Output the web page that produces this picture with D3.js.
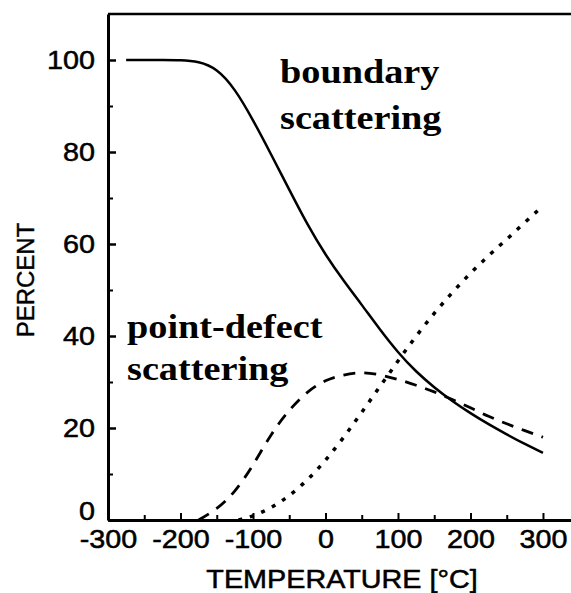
<!DOCTYPE html>
<html>
<head>
<meta charset="utf-8">
<script src="https://cdn.jsdelivr.net/npm/d3@7"></script>
<style>
  body { margin: 0; background: #fff; }
  svg { display: block; }
</style>
</head>
<body>
<div id="chart"></div>
<script>
// data
var xTicks = [-300, -200, -100, 0, 100, 200, 300];
var yTicks = [0, 20, 40, 60, 80, 100];

// solid line - boundary scattering
var solidTemp = [-275, -250, -225, -200, -175, -150, -125, -100, -75, -50, -25, 0, 25, 50, 75, 100, 125, 150, 175, 200, 225, 250, 275, 300];
var solidPct  = [100, 100, 100, 100, 99.7, 98.2, 93.8, 87, 79.5, 71.8, 64.2, 57.6, 52, 46.8, 41.4, 36.4, 32.2, 28.8, 25.8, 23.2, 20.8, 18.6, 16.5, 14.6];

// dashed line
var dashTemp = [-175, -150, -125, -100, -75, -50, -25, 0, 25, 50, 75, 100, 125, 150, 175, 200, 225, 250, 275, 300];
var dashPct  = [0, 2.3, 6, 11.8, 18.8, 24, 28, 30.5, 31.6, 32.2, 31.6, 30.6, 29.3, 27.9, 26.2, 24.4, 22.5, 20.9, 19.4, 18];

// dotted line
var dotTemp = [-120, -100, -75, -50, -25, 0, 25, 50, 75, 100, 125, 150, 175, 200, 225, 250, 275, 300];
var dotPct  = [0, 0.8, 2.6, 5.2, 8.6, 12.9, 17.9, 23.4, 29, 34.6, 40, 45, 49.5, 53.7, 57.5, 61, 64.7, 68.3];

// labels
var labels = [
  {lines: ["boundary", "scattering"], x: 280, y: 83, gap: 46},
  {lines: ["point-defect", "scattering"], x: 127, y: 338, gap: 42}
];

//
// chart
//
var w = 571;
var h = 593;
var stretch = 1.15; // the scan is a bit wider than tall
var sans = "Liberation Sans, Arial, sans-serif";

var x = d3.scaleLinear().domain([-300, 345]).range([108, 575.6]);
var y = d3.scaleLinear().domain([0, 110]).range([520, 14]);

var svg = d3.select("#chart")
    .append("svg")
    .attr("width", w)
    .attr("height", h);

// top frame
svg.append("line")
    .attr("x1", x(-300)).attr("x2", x(345))
    .attr("y1", y(110)).attr("y2", y(110))
    .attr("stroke", "#000")
    .attr("stroke-width", 2.5);

// minor ticks
svg.append("g")
    .attr("transform", "translate(0," + y(0) + ")")
    .call(d3.axisBottom(x).tickValues(d3.range(-250, 345, 100)).tickSize(-5).tickSizeOuter(0).tickFormat(""))
    .call(function(g) { g.select(".domain").remove(); })
    .selectAll("line").attr("stroke-width", 2);

svg.append("g")
    .attr("transform", "translate(" + x(-300) + ",0)")
    .call(d3.axisLeft(y).tickValues([10, 30, 50, 70, 90]).tickSize(-5).tickSizeOuter(0).tickFormat(""))
    .call(function(g) { g.select(".domain").remove(); })
    .selectAll("line").attr("stroke-width", 2);

// x axis
var xAxis = svg.append("g")
    .attr("transform", "translate(0," + y(0) + ")")
    .call(d3.axisBottom(x).tickValues(xTicks).tickSize(-7).tickSizeOuter(0).tickPadding(10)
        .tickFormat(function(d) { return String(d); }));

xAxis.select(".domain").attr("stroke-width", 3);
xAxis.selectAll("line").attr("stroke-width", 2);
xAxis.selectAll("text")
    .attr("font-family", sans)
    .attr("font-size", 25)
    .attr("fill", "#000")
    .attr("stroke", "#000")
    .attr("stroke-width", 0.5)
    .attr("transform", "scale(" + stretch + ",1)");

// y axis
var yAxis = svg.append("g")
    .attr("transform", "translate(" + x(-300) + ",0)")
    .call(d3.axisLeft(y).tickValues(yTicks).tickSize(-8).tickSizeOuter(0).tickPadding(13)
        .tickFormat(function(d) { return String(d); }));

yAxis.select(".domain").attr("stroke-width", 3);
yAxis.selectAll("line").attr("stroke-width", 2.5);
yAxis.selectAll("text")
    .attr("font-family", sans)
    .attr("font-size", 25)
    .attr("fill", "#000")
    .attr("stroke", "#000")
    .attr("stroke-width", 0.5)
    .attr("x", -13 / stretch)
    .attr("dy", function(d) { return d === 0 ? "-0.04em" : "0.32em"; })
    .attr("transform", "scale(" + stretch + ",1)");

// axis titles
svg.append("text")
    .attr("transform", "translate(342,588) scale(" + stretch + ",1)")
    .attr("text-anchor", "middle")
    .attr("font-family", sans)
    .attr("font-size", 25)
    .attr("stroke", "#000")
    .attr("stroke-width", 0.5)
    .text("TEMPERATURE [°C]");

svg.append("text")
    .attr("transform", "translate(34,280) rotate(-90)")
    .attr("text-anchor", "middle")
    .attr("font-family", sans)
    .attr("font-size", 24)
    .attr("stroke", "#000")
    .attr("stroke-width", 0.4)
    .text("PERCENT");

// curves
var line = d3.line()
    .x(function(d) { return x(d[0]); })
    .y(function(d) { return y(d[1]); })
    .curve(d3.curveBasis);

svg.append("path")
    .datum(d3.zip(solidTemp, solidPct))
    .attr("d", line)
    .attr("fill", "none")
    .attr("stroke", "#000")
    .attr("stroke-width", 2.5);

svg.append("path")
    .datum(d3.zip(dashTemp, dashPct))
    .attr("d", line)
    .attr("fill", "none")
    .attr("stroke", "#000")
    .attr("stroke-width", 2.8)
    .attr("stroke-dasharray", "12,9");

svg.append("path")
    .datum(d3.zip(dotTemp, dotPct))
    .attr("d", line)
    .attr("fill", "none")
    .attr("stroke", "#000")
    .attr("stroke-width", 3.5)
    .attr("stroke-dasharray", "4,8");

// in-plot labels
labels.forEach(function(l) {
    l.lines.forEach(function(s, i) {
        svg.append("text")
            .attr("transform", "translate(" + l.x + "," + (l.y + i * l.gap) + ") scale(1.16,1)")
            .attr("font-family", "Liberation Serif, Times New Roman, serif")
            .attr("font-weight", "bold")
            .attr("font-size", 33)
            .text(s);
    });
});

// end of chart
</script>
</body>
</html>
